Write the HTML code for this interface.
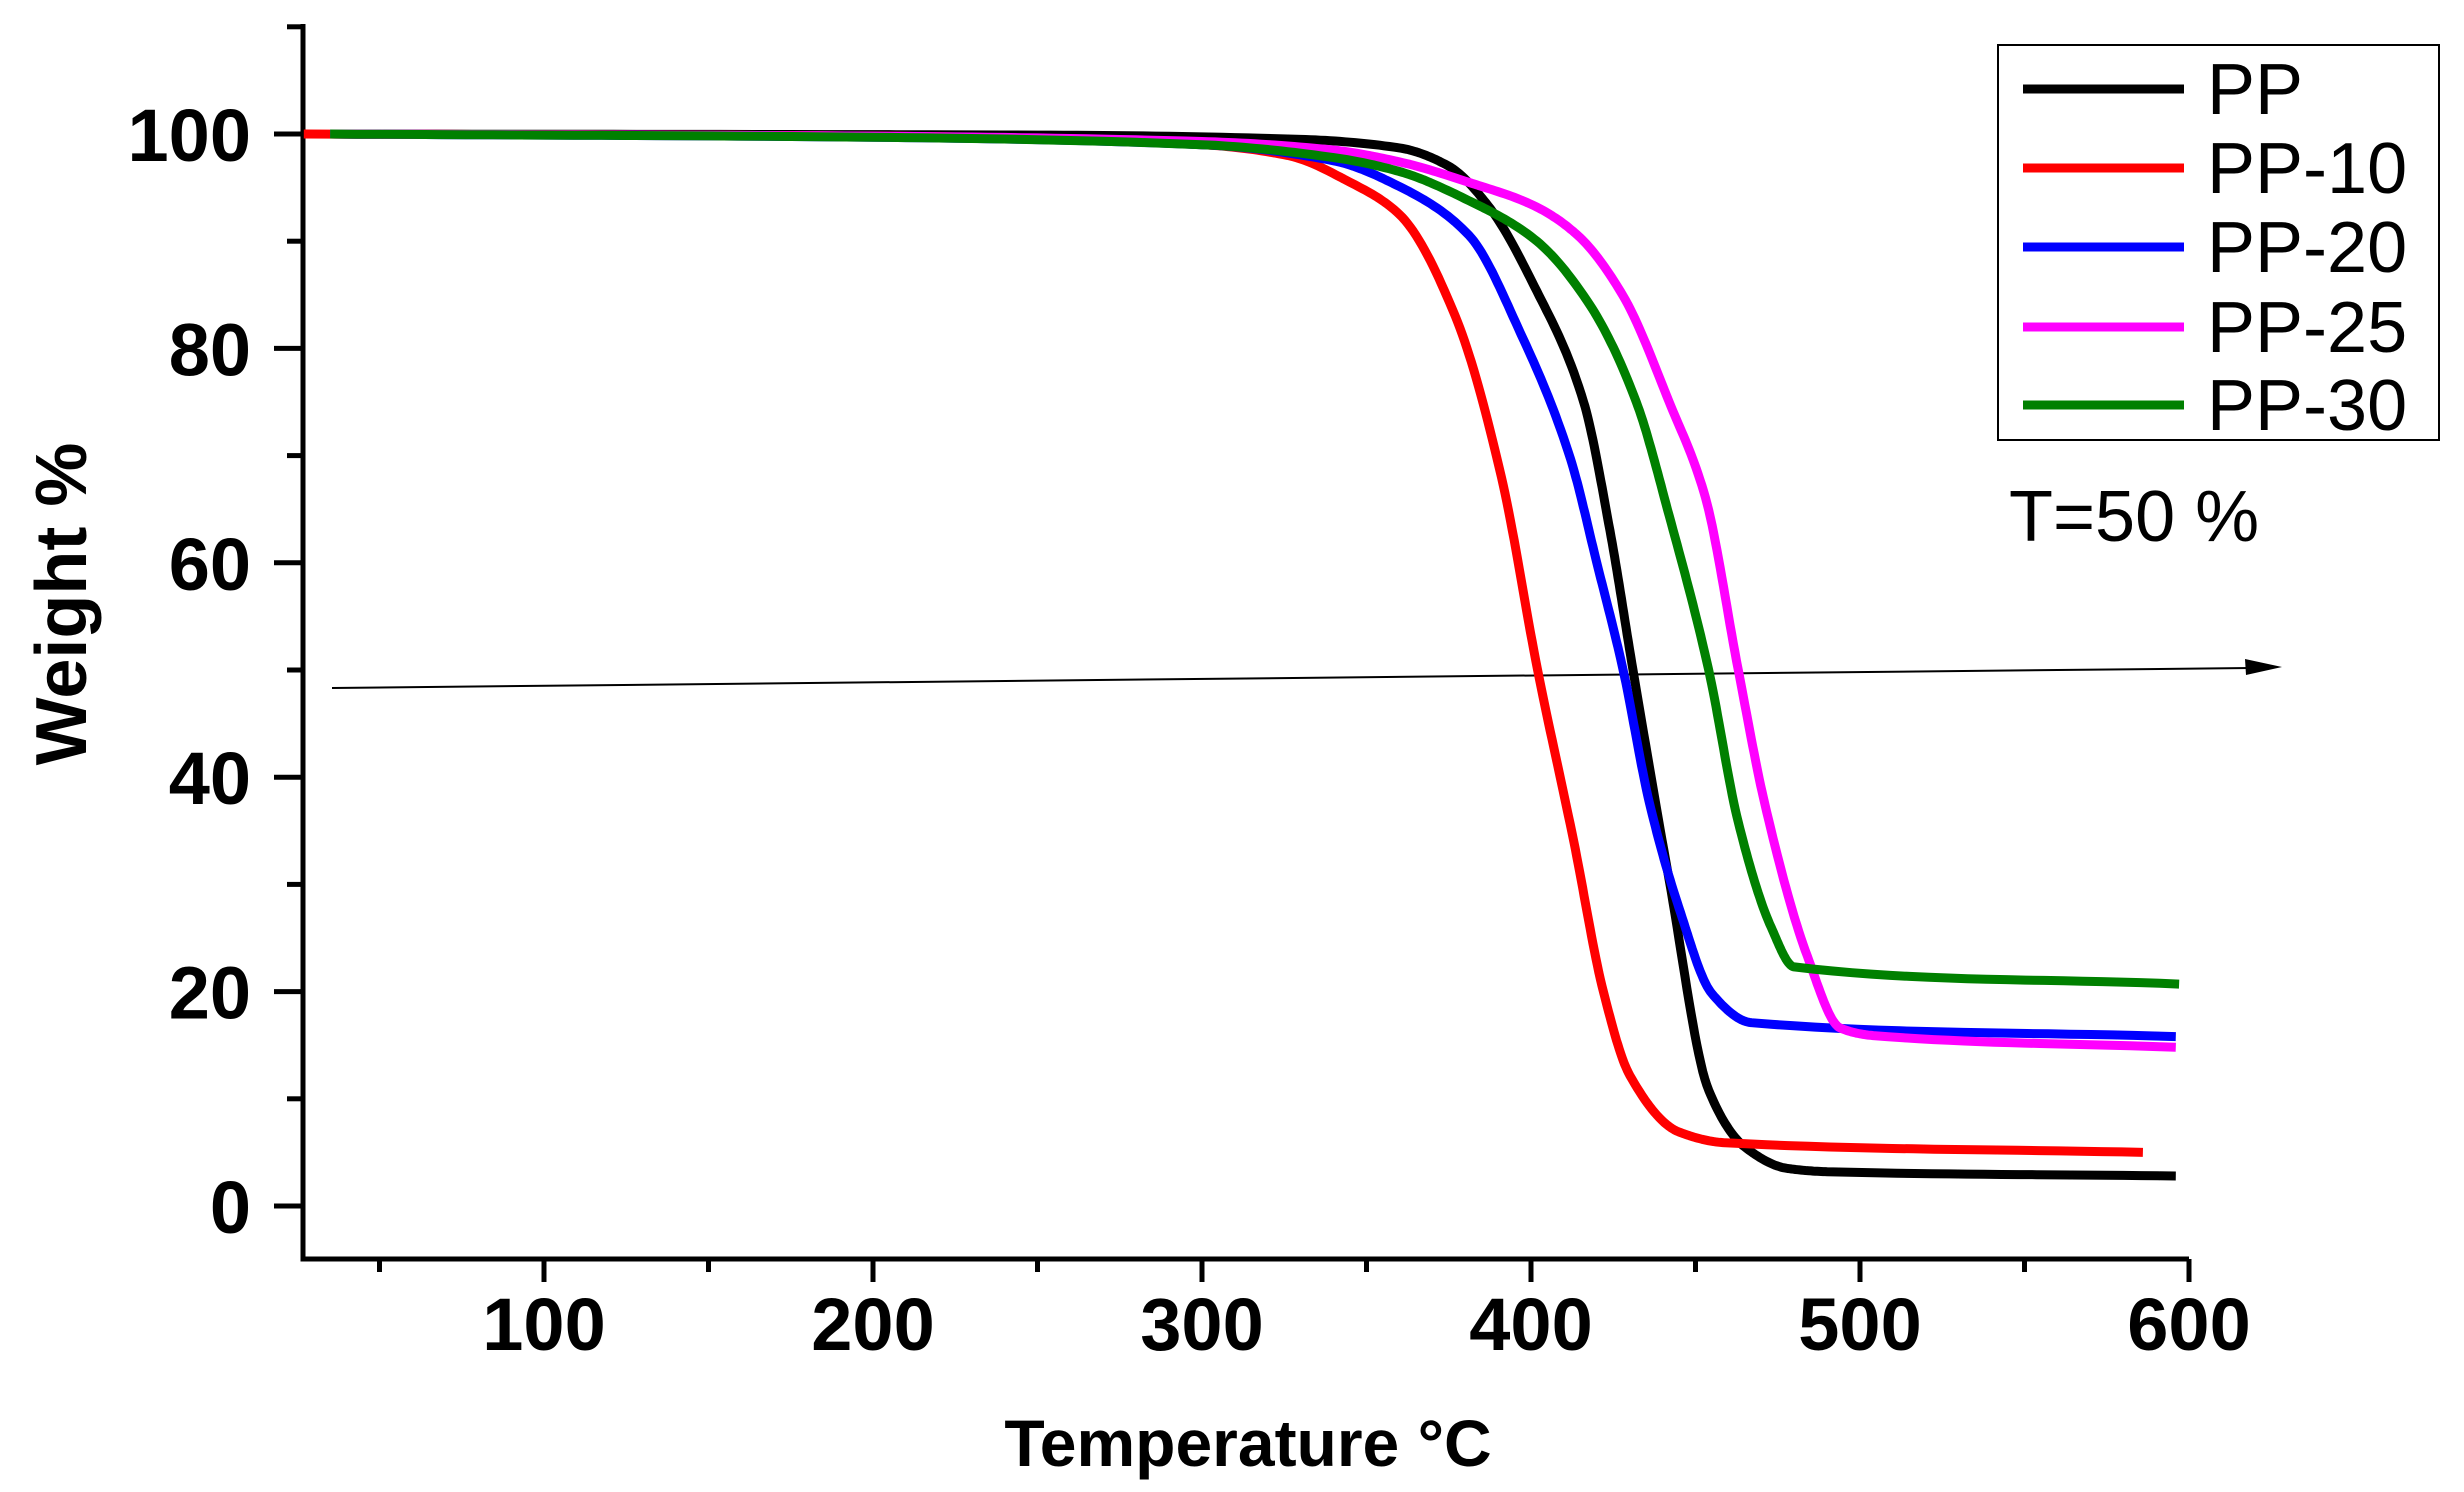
<!DOCTYPE html>
<html><head><meta charset="utf-8"><style>
html,body{margin:0;padding:0;background:#fff;}
svg{display:block;}
text{font-family:"Liberation Sans",Arial,sans-serif;}
</style></head><body>
<svg id="s" width="2464" height="1492" viewBox="0 0 2464 1492" xmlns="http://www.w3.org/2000/svg">
<rect width="2464" height="1492" fill="#fff"/>
<g id="axes" stroke="#000" stroke-width="5" fill="none"></g>
<g id="labels" font-weight="bold" font-size="74" fill="#000"></g>
<line x1="332" y1="688" x2="2250" y2="668" stroke="#000" stroke-width="2"/>
<polygon points="2282,667 2245,659 2246,675" fill="#000"/>
<g id="curves" fill="none" stroke-width="9" stroke-linejoin="round"></g>
<rect x="1998" y="45" width="441" height="395" fill="#fff" stroke="#000" stroke-width="2"/>
<g font-size="72" fill="#000">
<line x1="2023" y1="89" x2="2184" y2="89" stroke="#000" stroke-width="9"/><text x="2207" y="114">PP</text>
<line x1="2023" y1="168" x2="2184" y2="168" stroke="#ff0000" stroke-width="9"/><text x="2207" y="193">PP-10</text>
<line x1="2023" y1="247" x2="2184" y2="247" stroke="#0000ff" stroke-width="9"/><text x="2207" y="272">PP-20</text>
<line x1="2023" y1="327" x2="2184" y2="327" stroke="#ff00ff" stroke-width="9"/><text x="2207" y="352">PP-25</text>
<line x1="2023" y1="405" x2="2184" y2="405" stroke="#008000" stroke-width="9"/><text x="2207" y="430">PP-30</text>
<text x="2009" y="541">T=50 %</text>
</g>
<text x="1248" y="1466" font-size="66" font-weight="bold" text-anchor="middle">Temperature °C</text>
<text transform="translate(86,604) rotate(-90)" font-size="72" font-weight="bold" text-anchor="middle">Weight %</text>
</svg>
<script>
var X=function(t){return 215+3.29*t;}, Y=function(w){return 1206-10.72*w;};
var NS="http://www.w3.org/2000/svg";
function el(p,tag,a,txt){var e=document.createElementNS(NS,tag);for(var k in a)e.setAttribute(k,a[k]);if(txt!=null)e.textContent=txt;p.appendChild(e);return e;}
var ax=document.getElementById('axes'),lb=document.getElementById('labels');
el(ax,'path',{d:'M303,24 L303,1259 L2189,1259'});
for(var w=0;w<=110;w+=10){var y=Y(w);var maj=w%20==0&&w<=100;el(ax,'line',{x1:maj?274:287,y1:y,x2:303,y2:y});
 if(maj)el(lb,'text',{x:251,y:y+27,'text-anchor':'end'},String(w));}
for(var t=50;t<=600;t+=50){var x=X(t);var maj=t%100==0;el(ax,'line',{x1:x,y1:1259,x2:x,y2:maj?1282:1272});
 if(maj)el(lb,'text',{x:x,y:1350,'text-anchor':'middle'},String(t));}
var data=[
['#000',[[35,100],[250,99.9],[330,99.5],[360,98.7],[375,97],[387,93.3],[401,85.8],[416,75],[424,63],[431,50],[442,30.4],[454,10.8],[465,5.5],[478,3.5],[490,3.2],[596,2.8]]],
['#ff0000',[[27,100],[200,99.8],[300,99],[326,98],[345,95.5],[360,92.5],[377,83],[391,68],[402,50],[413,34],[422,20],[430,12.2],[445,6.9],[459,5.9],[586,5.0]]],
['#0000ff',[[35,100],[200,99.7],[300,99],[340,97.5],[360,95.1],[381,90.6],[397,81.3],[412,69.7],[420,60],[428,50],[436,37.6],[445,27.8],[455,19.8],[467,17.1],[596,15.8]]],
['#ff00ff',[[35,100],[200,99.8],[300,99.3],[340,98.5],[360,97.4],[381,95.5],[401,93.3],[414,90.6],[428,84.9],[442,75],[453,66.1],[463,50],[471,37.6],[484,23.3],[494,16.6],[504,15.9],[596,14.8]]],
['#008000',[[35,100],[200,99.7],[300,99],[340,97.8],[360,96.5],[381,93.8],[401,90.2],[418,84],[432,75],[442,64.4],[454,50],[463,35.8],[473,26],[480,22.3],[597,20.7]]]
];
function mono(pts){var n=pts.length,xs=pts.map(function(p){return p[0]}),ys=pts.map(function(p){return p[1]});
 var d=[],m=[];for(var i=0;i<n-1;i++)d.push((ys[i+1]-ys[i])/(xs[i+1]-xs[i]));
 m[0]=d[0];m[n-1]=d[n-2];
 for(i=1;i<n-1;i++){if(d[i-1]*d[i]<=0)m[i]=0;else{var w1=2*(xs[i+1]-xs[i])+(xs[i]-xs[i-1]),w2=(xs[i+1]-xs[i])+2*(xs[i]-xs[i-1]);m[i]=(w1+w2)/(w1/d[i-1]+w2/d[i]);}}
 var out=[];for(i=0;i<n-1;i++){var h=xs[i+1]-xs[i];for(var k=0;k<20;k++){var s=k/20,h00=2*s*s*s-3*s*s+1,h10=s*s*s-2*s*s+s,h01=-2*s*s*s+3*s*s,h11=s*s*s-s*s;
  out.push([xs[i]+s*h,h00*ys[i]+h10*h*m[i]+h01*ys[i+1]+h11*h*m[i+1]]);}}
 out.push([xs[n-1],ys[n-1]]);return out;}
var cg=document.getElementById('curves');
data.forEach(function(s){var p=mono(s[1]);
 var d='M'+p.map(function(q){return X(q[0]).toFixed(1)+','+Y(q[1]).toFixed(1);}).join(' L');
 el(cg,'path',{d:d,stroke:s[0]});});
</script>
</body></html>
